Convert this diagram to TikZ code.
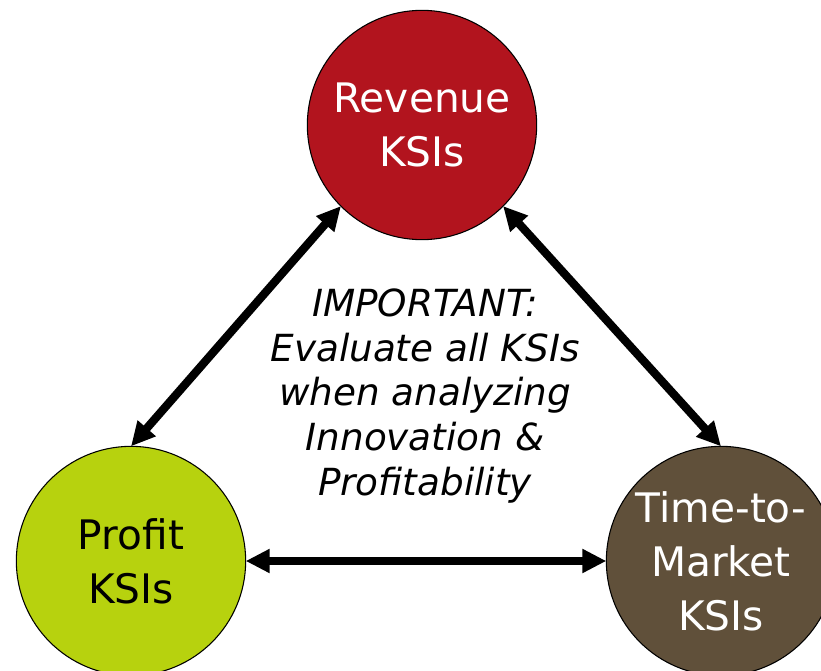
\documentclass[tikz,border=0pt]{standalone}
\usepackage{fontspec}
\setmainfont{DejaVu Sans}
\usetikzlibrary{arrows.meta}

\definecolor{revred}{RGB}{178,20,30}
\definecolor{profgreen}{RGB}{183,210,14}
\definecolor{ttmbrown}{RGB}{96,80,58}

\tikzset{
  ksi/.style={circle, draw=black, line width=0.8pt, minimum size=172pt, inner sep=0pt, outer sep=0pt, align=center, font=\fontsize{30.5}{40.5}\selectfont},
  link/.style={line width=6.2pt, {Triangle[length=18pt,width=17pt]}-{Triangle[length=18pt,width=17pt]}}
}

\begin{document}
\begin{tikzpicture}[x=0.75pt,y=0.75pt,yscale=-1,xscale=1]
\useasboundingbox (0,0) rectangle (821,671);

% Circles
\node [ksi, fill=revred, text=white] (rev) at (422,125) {Revenue\\KSIs};
\node [ksi, fill=profgreen, text=black] (prof) at (131,561) {Profit\\KSIs};
\node [ksi, fill=ttmbrown, text=white] (ttm) at (721,561) {Time-to-\\Market\\KSIs};

% Text Node
\node [align=center, font=\fontsize{28}{33.5}\selectfont\itshape] (note) at (425,396) {IMPORTANT:\\Evaluate all KSIs\\when analyzing\\Innovation \&\\Profitability};

% Arrows
\draw [link] (rev.225) -- (prof.90);
\draw [link] (rev.315) -- (ttm.90);
\draw [link] (prof.0) -- (ttm.180);

\end{tikzpicture}
\end{document}
